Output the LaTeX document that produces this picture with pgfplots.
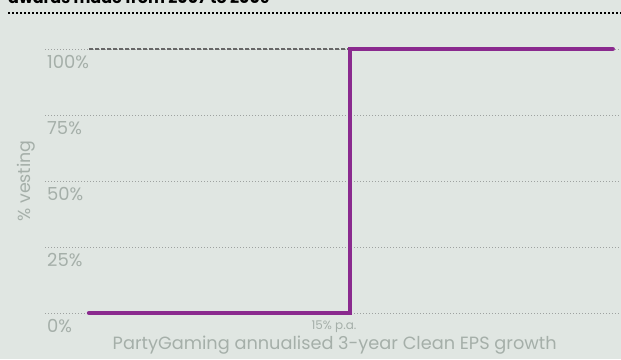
\documentclass[border=0pt]{standalone}
\usepackage{pgfplots}
\pgfplotsset{compat=1.18}
\usepackage{fontspec}
\setmainfont{Poppins}
\definecolor{bg}{HTML}{E0E6E2}
\definecolor{txt}{HTML}{A5AFA9}
\definecolor{purp}{HTML}{8A2A8E}
\definecolor{gridc}{HTML}{9EA2A0}
\definecolor{dashc}{HTML}{666666}
\begin{document}
\begin{tikzpicture}[x=1bp,y=1bp]
\fill[bg] (0,0) rectangle (621,-359);
\useasboundingbox (0,0) rectangle (621,-359);
\node[anchor=base west, inner sep=0, font=\fontsize{16}{18}\selectfont\bfseries] at (8,-3.5) {awards made from 2007 to 2009};
\draw[black, line width=1.6bp, dash pattern=on 1.6bp off 2.4bp] (8,-13) -- (621,-13);
\begin{axis}[
  at={(45bp,-313bp)}, anchor=south west,
  scale only axis, width=576bp, height=264bp,
  xmin=-2.529, xmax=30.575, ymin=0, ymax=100,
  axis line style={draw=none}, major tick length=0,
  ytick={0,25,50,75,100},
  yticklabels={0\%,25\%,50\%,75\%,100\%},
  xtick={15}, xticklabels={15\% p.a.},
  ymajorgrids,
  grid style={gridc, line width=1bp, dash pattern=on 1bp off 2bp},
  yticklabel style={anchor=north west, inner sep=0pt, xshift=2bp, yshift=-6bp, text=txt, font=\fontsize{18}{20}\selectfont},
  xticklabel style={anchor=center, inner sep=0pt, xshift=-16bp, yshift=-14bp, text=txt, font=\fontsize{12}{14}\selectfont},
  xlabel={PartyGaming annualised 3-year Clean EPS growth},
  ylabel={\% vesting},
  xlabel style={at={(axis description cs:0.503,0)}, anchor=center, yshift=-32bp, text=txt, font=\fontsize{17.8}{20}\selectfont},
  ylabel style={at={(axis description cs:-0.032,0.5)}, anchor=center, rotate=0, text=txt, font=\fontsize{17.5}{20}\selectfont},
  clip=false,
]
\addplot[dashc, line width=1.8bp, dash pattern=on 4bp off 2bp] coordinates {(0,100) (15,100)};
\addplot[purp, line width=4.4bp, line cap=round, line join=miter] coordinates {(0,0) (15,0) (15,100) (30.1,100)};
\end{axis}
\end{tikzpicture}
\end{document}
